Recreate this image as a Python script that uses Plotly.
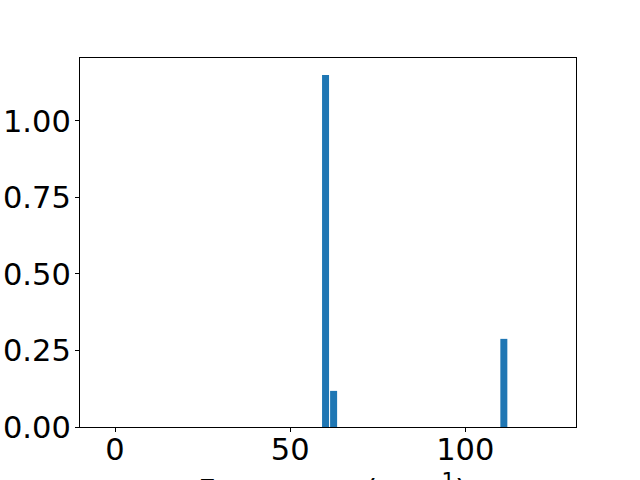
import plotly.graph_objects as go

freqs = [60.1, 62.4, 111.0]
intensities = [1.150, 0.118, 0.288]
bar_width = 2.0
x_ticks = [0, 50, 100]
y_ticks = [0.0, 0.25, 0.5, 0.75, 1.0]
y_tick_labels = ["0.00", "0.25", "0.50", "0.75", "1.00"]

fig = go.Figure()
fig.add_trace(go.Bar(x=freqs, y=intensities, width=bar_width,
                     marker=dict(color="#1f77b4", line=dict(width=0))))

font = dict(family="DejaVu Sans", size=30.5, color="black")
fig.update_layout(
    width=640, height=480,
    margin=dict(l=80, r=64, t=58, b=53),
    paper_bgcolor="white", plot_bgcolor="white",
    showlegend=False,
    font=font,
    xaxis=dict(range=[-10, 131.6], tickvals=x_ticks, ticks="outside", ticklen=4,
               tickcolor="black", showline=True, linecolor="black", linewidth=1,
               mirror=True, showgrid=False, zeroline=False, tickfont=font,
               automargin=False, ticklabelstandoff=-9),
    yaxis=dict(range=[0, 1.2057], tickvals=y_ticks, ticktext=y_tick_labels,
               ticks="outside", ticklen=4, tickcolor="black", showline=True,
               linecolor="black", linewidth=1, mirror=True, showgrid=False,
               zeroline=False, tickfont=font, automargin=False,
               ticklabelstandoff=-2),
    annotations=[dict(text="Frequency (cm<sup>\u22121</sup>)", xref="paper", yref="paper",
                      x=0.51, y=-0.105, xanchor="center", yanchor="top",
                      showarrow=False, font=font)],
)
fig.write_html("out.html", config={"displayModeBar": False},
               post_script="document.body.style.margin='0';document.body.style.overflow='hidden';")
